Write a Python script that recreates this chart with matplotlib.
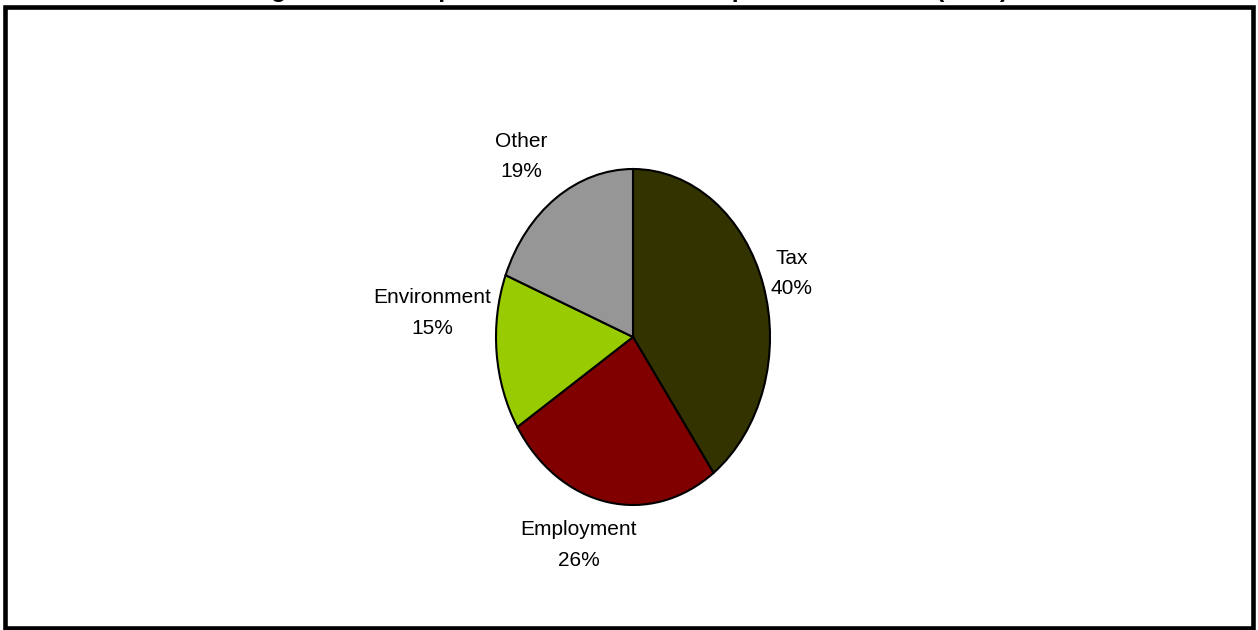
import numpy as np
import matplotlib.pyplot as plt
from matplotlib.patches import Rectangle

categories = ['Tax', 'Employment', 'Environment', 'Other']
shares = [40, 26, 15, 19]
colours = ['#333300', '#800000', '#99CC00', '#969696']
title = 'Figure 4.1: Composition of Member Complaints Received (2005)'

plt.rcParams['font.family'] = 'Liberation Sans'

W, H = 1258, 630
fig = plt.figure(figsize=(W / 100, H / 100), dpi=100)

# pie sits in an axes box the size of the ellipse, so it comes out taller than wide
cx, cy, rx, ry = 633, 337, 137, 168
ax = fig.add_axes([(cx - rx) / W, (H - cy - ry) / H, 2 * rx / W, 2 * ry / H])
wedges, _ = ax.pie(shares, colors=colours, startangle=90, counterclock=False,
                   wedgeprops={'edgecolor': 'black', 'linewidth': 1.5})
ax.set_aspect('auto')
ax.set_xlim(-1, 1)
ax.set_ylim(-1, 1)
ax.axis('off')

# label distance and angle nudge per wedge
label_r = [1.22, 1.30, 1.47, 1.35]
label_da = [0, -7, -11, 3]
for w, name, val, r, da in zip(wedges, categories, shares, label_r, label_da):
    mid = np.deg2rad((w.theta1 + w.theta2) / 2 + da)
    ax.text(r * np.cos(mid), r * np.sin(mid), f'{name}\n{val}%', ha='center', va='center',
            fontsize=15, linespacing=1.75)

# chart title, mostly above the top edge
fig.text(0.5, 1 + 3.5 / H, title, ha='center', va='baseline', fontsize=18, fontweight='bold')

# outer frame
fig.patches.append(Rectangle((5 / W, (H - 627.5) / H), 1247.5 / W, 621 / H,
                             transform=fig.transFigure, fill=False, edgecolor='black',
                             linewidth=3.3))

plt.savefig('out.png', dpi=100)
